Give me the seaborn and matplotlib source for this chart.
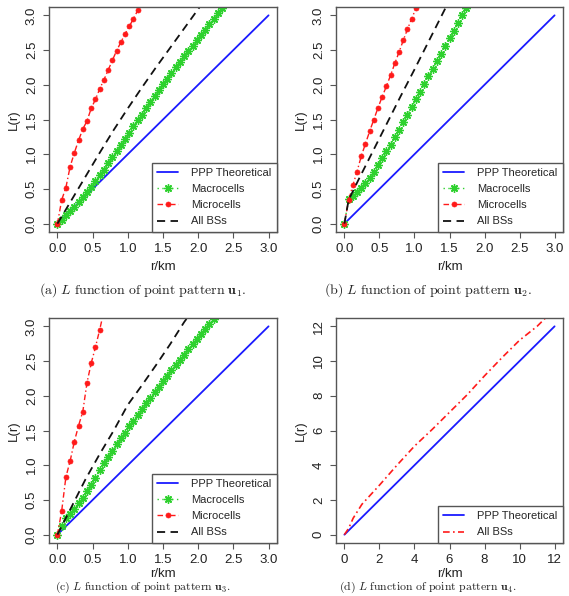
import matplotlib
matplotlib.use("Agg")
import matplotlib.pyplot as plt
import seaborn as sns
import pandas as pd

# ---------------- data ----------------
STEP_R = [0.00, 0.06, 0.12, 0.18, 0.24, 0.30, 0.36, 0.42, 0.48, 0.54, 0.60, 0.66,
          0.72, 0.78, 0.84, 0.90, 0.96, 1.02, 1.08, 1.14, 1.20, 1.26, 1.32, 1.38,
          1.44, 1.50, 1.56, 1.62, 1.68, 1.74, 1.80, 1.86, 1.92, 1.98, 2.04, 2.10,
          2.16, 2.22, 2.28, 2.34]

THEO_R = [0.0, 3.0]
THEO_L = [0.0, 3.0]
THEO_R_D = [0.0, 12.0]
THEO_L_D = [0.0, 12.0]

# panel (a)
MACRO_L_A = [0.00, 0.06, 0.12, 0.18, 0.24, 0.31, 0.38, 0.45, 0.53, 0.61, 0.70, 0.78,
             0.87, 0.96, 1.05, 1.14, 1.22, 1.31, 1.40, 1.49, 1.57, 1.66, 1.75, 1.84,
             1.93, 2.01, 2.09, 2.17, 2.25, 2.33, 2.41, 2.49, 2.56, 2.64, 2.72, 2.79,
             2.87, 2.95, 3.03, 3.10]
MICRO_L_A = [0.00, 0.34, 0.52, 0.82, 1.02, 1.20, 1.36, 1.48, 1.66, 1.79, 1.94, 2.07,
             2.21, 2.35, 2.49, 2.61, 2.73, 2.84, 2.95, 3.07, 3.18]
ALL_R_A = [0.0, 0.2, 0.4, 0.6, 0.8, 1.0, 1.2, 1.4, 1.6, 1.8, 2.0, 2.1]
ALL_L_A = [0.0, 0.34, 0.68, 1.02, 1.35, 1.66, 1.96, 2.25, 2.53, 2.81, 3.09, 3.23]

# panel (b)
MACRO_L_B = [0.00, 0.36, 0.40, 0.45, 0.52, 0.58, 0.66, 0.75, 0.84, 0.94, 1.04, 1.14,
             1.25, 1.35, 1.46, 1.57, 1.68, 1.79, 1.90, 2.01, 2.12, 2.23, 2.34, 2.45,
             2.56, 2.67, 2.78, 2.89, 3.00, 3.11]
MICRO_L_B = [0.00, 0.34, 0.55, 0.75, 0.97, 1.15, 1.33, 1.50, 1.67, 1.83, 1.98, 2.14,
             2.31, 2.47, 2.64, 2.80, 2.95, 3.10, 3.25]
ALL_R_B = [0.0, 0.06, 0.2, 0.4, 0.6, 0.8, 1.0, 1.2, 1.4, 1.5]
ALL_L_B = [0.0, 0.34, 0.63, 1.03, 1.43, 1.83, 2.22, 2.62, 3.02, 3.22]

# panel (c)
MACRO_L_C = [0.00, 0.12, 0.24, 0.30, 0.37, 0.45, 0.53, 0.63, 0.72, 0.82, 0.93, 1.03,
             1.12, 1.21, 1.30, 1.39, 1.47, 1.56, 1.64, 1.73, 1.81, 1.89, 1.97, 2.05,
             2.13, 2.21, 2.29, 2.37, 2.44, 2.52, 2.59, 2.67, 2.74, 2.82, 2.89, 2.96,
             3.03, 3.10]
MICRO_L_C = [0.00, 0.34, 0.83, 1.06, 1.34, 1.57, 1.77, 2.19, 2.47, 2.70, 2.95, 3.22]
ALL_R_C = [0.0, 0.1, 0.2, 0.4, 0.6, 0.8, 1.0, 1.2, 1.4, 1.6, 1.8, 1.9]
ALL_L_C = [0.0, 0.20, 0.40, 0.80, 1.16, 1.50, 1.87, 2.15, 2.44, 2.74, 3.06, 3.20]

# panel (d)
ALL_R_D = [0.0, 0.25, 0.5, 1.0, 1.5, 2.0, 3.0, 4.0, 5.0, 6.0, 7.0, 8.0, 9.0, 10.0, 11.0, 11.6]
ALL_L_D = [0.0, 0.38, 0.95, 1.75, 2.30, 2.85, 4.00, 5.10, 6.05, 7.05, 8.05, 9.15, 10.20, 11.20, 12.00, 12.60]

TICKS_ABC = [0.0, 0.5, 1.0, 1.5, 2.0, 2.5, 3.0]
TICK_LABELS_ABC = ["0.0", "0.5", "1.0", "1.5", "2.0", "2.5", "3.0"]
TICKS_D = [0, 2, 4, 6, 8, 10, 12]
TICK_LABELS_D = ["0", "2", "4", "6", "8", "10", "12"]

LABELS = ["PPP Theoretical", "Macrocells", "Microcells", "All BSs"]
CAPTIONS = [r"$\mathrm{(a)}\ L\ \mathrm{function\ of\ point\ pattern}\ \mathbf{u_1}\mathrm{.}$",
            r"$\mathrm{(b)}\ L\ \mathrm{function\ of\ point\ pattern}\ \mathbf{u_2}\mathrm{.}$",
            r"$\mathrm{(c)}\ L\ \mathrm{function\ of\ point\ pattern}\ \mathbf{u_3}\mathrm{.}$",
            r"$\mathrm{(d)}\ L\ \mathrm{function\ of\ point\ pattern}\ \mathbf{u_4}\mathrm{.}$"]

# ---------------- style ----------------
sns.set_theme(style="ticks")
plt.rcParams["font.family"] = ["Liberation Sans", "DejaVu Sans"]
plt.rcParams["mathtext.fontset"] = "cm"

BLUE = "#1a1aff"
GREEN = "#2ed12e"
RED = "#ff1a1a"
BLACK = "#111111"
FRAME = "#555555"

fig = plt.figure(figsize=(5.69, 5.96), dpi=100)
W, H = 569.0, 596.0


def make_ax(left, top, right, bottom):
    return fig.add_axes([left / W, 1 - bottom / H, (right - left) / W, (bottom - top) / H])


ax_a = make_ax(49, 7, 277, 232)
ax_b = make_ax(336, 7, 563, 232)
ax_c = make_ax(49, 318, 277, 543)
ax_d = make_ax(336, 318, 563, 543)


def line(ax, x, y, color, ls, lw, label, marker=None, ms=0, mew=0):
    df = pd.DataFrame({"r": x[:len(y)], "L": y})
    kws = dict(color=color, linestyle=ls, linewidth=lw, label=label, sort=False,
               legend=False, ax=ax, errorbar=None)
    if marker is not None:
        kws.update(marker=marker, markersize=ms, markeredgewidth=mew,
                   markeredgecolor=color, markerfacecolor=color)
    sns.lineplot(data=df, x="r", y="L", **kws)


def style_ax(ax, lim, ticks, ticklabels, xpad):
    ax.set_xlim(-0.04 * lim, 1.04 * lim)
    ax.set_ylim(-0.04 * lim, 1.04 * lim)
    ax.set_xticks(ticks)
    ax.set_xticklabels(ticklabels)
    ax.set_yticks(ticks)
    ax.set_yticklabels(ticklabels, rotation=90, va="center")
    ax.tick_params(axis="both", direction="out", length=4, width=0.8, color=FRAME,
                   labelsize=9.5, labelcolor="#222222")
    ax.tick_params(axis="x", pad=4)
    ax.tick_params(axis="y", pad=4)
    for s in ax.spines.values():
        s.set_visible(True)
        s.set_color(FRAME)
        s.set_linewidth(1.0)
    ax.set_xlabel("r/km", fontsize=9.5, color="#222222", labelpad=xpad)
    ax.set_ylabel("L(r)", fontsize=9.5, color="#222222", labelpad=4)
    leg = ax.legend(loc="lower right", borderaxespad=0, fontsize=8, frameon=True,
                    fancybox=False, framealpha=1, edgecolor=FRAME, handlelength=1.9,
                    handletextpad=1.15, labelspacing=0.55, borderpad=0.5, numpoints=1)
    leg.get_frame().set_linewidth(1.0)


DASH = (0, (4.5, 3))
DASHDOT = (0, (4, 2, 1, 2))
DOT = (0, (1, 2.5))
AST = (8, 2, 0)

panels = [
    (ax_a, MACRO_L_A, MICRO_L_A, ALL_R_A, ALL_L_A, 4),
    (ax_b, MACRO_L_B, MICRO_L_B, ALL_R_B, ALL_L_B, 4),
    (ax_c, MACRO_L_C, MICRO_L_C, ALL_R_C, ALL_L_C, 1.5),
]
for ax, mac, mic, ar, al, xpad in panels:
    line(ax, THEO_R, THEO_L, BLUE, "-", 1.3, LABELS[0])
    line(ax, STEP_R, mac, GREEN, DOT, 1.0, LABELS[1], marker=AST, ms=6.0, mew=1.0)
    line(ax, STEP_R, mic, RED, DASHDOT, 1.0, LABELS[2], marker="o", ms=3.6, mew=0.5)
    line(ax, ar, al, BLACK, DASH, 1.3, LABELS[3])
    style_ax(ax, 3.0, TICKS_ABC, TICK_LABELS_ABC, xpad)

line(ax_d, THEO_R_D, THEO_L_D, BLUE, "-", 1.3, LABELS[0])
line(ax_d, ALL_R_D, ALL_L_D, RED, DASHDOT, 1.2, LABELS[3])
style_ax(ax_d, 12.0, TICKS_D, TICK_LABELS_D, 1.5)

# captions
fig.text(143 / W, 1 - 290 / H, CAPTIONS[0], ha="center", va="center", fontsize=10, color="#222222")
fig.text(428 / W, 1 - 290 / H, CAPTIONS[1], ha="center", va="center", fontsize=10, color="#222222")
fig.text(143 / W, 0.001, CAPTIONS[2], ha="center", va="bottom", fontsize=8.5, color="#222222")
fig.text(428 / W, 0.001, CAPTIONS[3], ha="center", va="bottom", fontsize=8.5, color="#222222")

fig.savefig("out.png", dpi=100)
